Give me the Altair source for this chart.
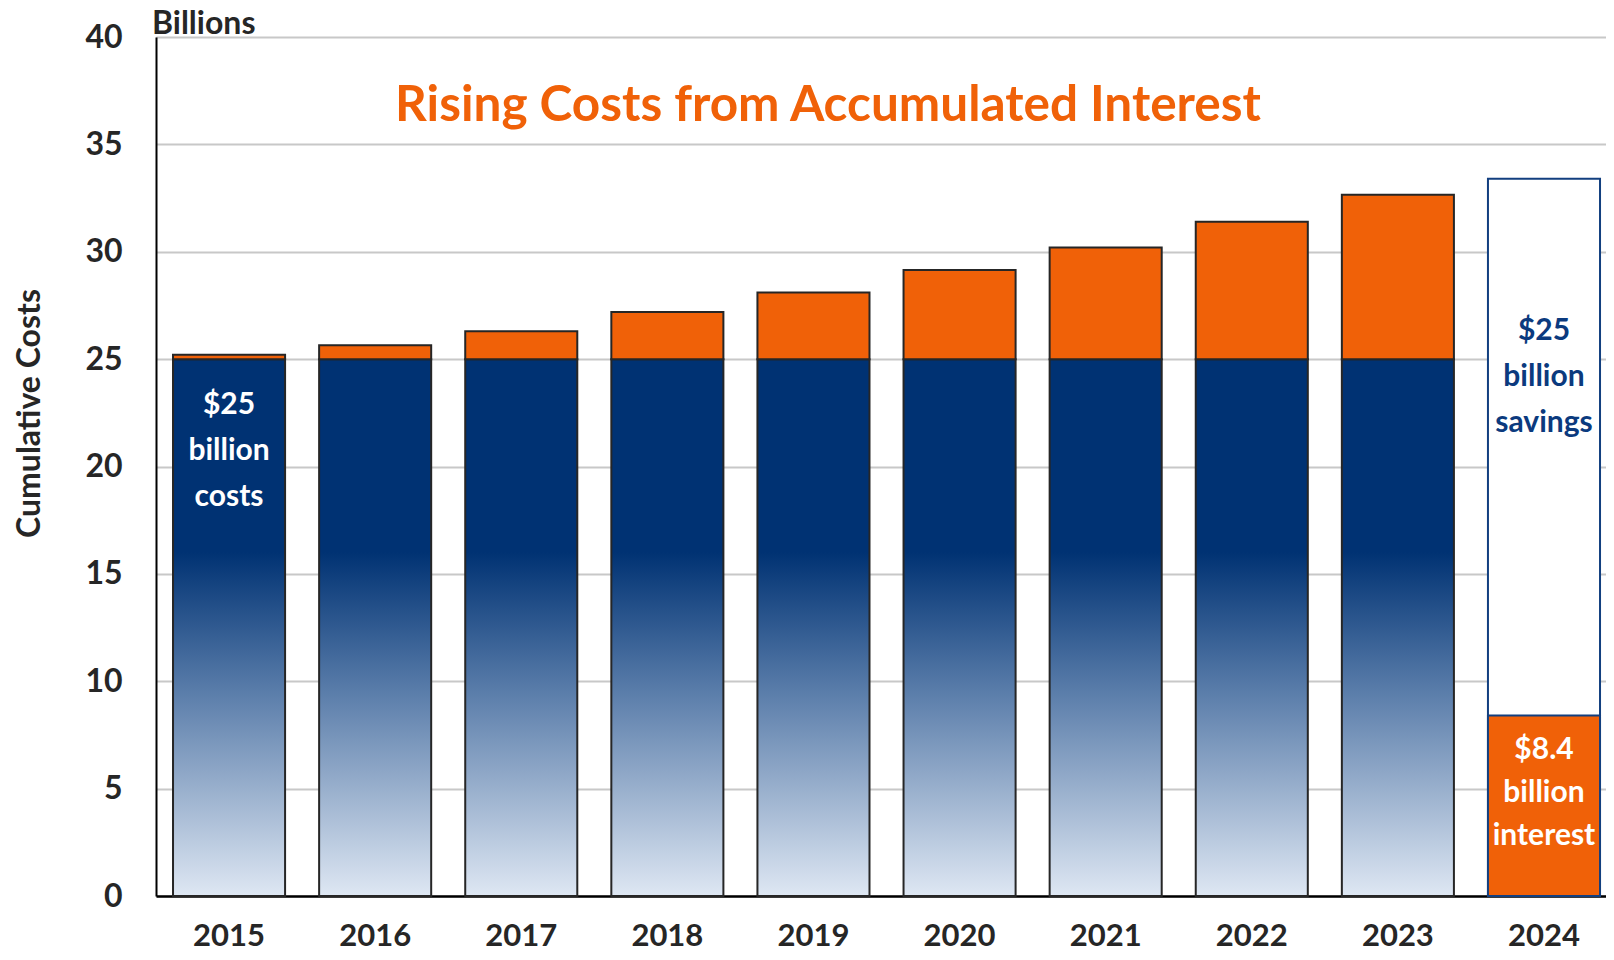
import altair as alt
import pandas as pd

# ---- data ----
years = ["2015", "2016", "2017", "2018", "2019", "2020", "2021", "2022", "2023", "2024"]
base_cost = [25, 25, 25, 25, 25, 25, 25, 25, 25]           # 2015-2023 principal
total_cost = [25.2, 25.65, 26.3, 27.2, 28.1, 29.15, 30.2, 31.4, 32.65]  # with accumulated interest
savings_total = [33.4]    # 2024 outline (savings + interest)
interest_2024 = [8.4]

label_years = ["2015", "2024", "2024"]
label_texts = ["$25\nbillion\ncosts", "$25\nbillion\nsavings", "$8.4\nbillion\ninterest"]
label_y = [22.85, 26.3, 6.8]   # first-line position of each annotation
label_heights = [46, 46, 43]
label_colors = ["#FFFFFF", "#0B3A7E", "#FFFFFF"]

FONT = "Lato"
NAVY = "#003273"
ORANGE = "#F06108"
DARK = "#262626"

df = pd.DataFrame({"year": years[:9], "base": base_cost, "total": total_cost, "zero": [0] * 9})
df24 = pd.DataFrame({"year": years[9:], "top": savings_total, "interest": interest_2024, "zero": [0]})
dfl = pd.DataFrame({"year": label_years, "text": label_texts, "y": label_y, "c": label_colors,
                    "lh": label_heights})

xenc = alt.X(
    "year:N",
    sort=years,
    scale=alt.Scale(domain=years, paddingInner=0.233, paddingOuter=0.0787, align=0.74),
    axis=alt.Axis(
        title=None, labelAngle=0, labelFont=FONT, labelFontSize=31, labelFontWeight="bold",
        labelColor=DARK, labelPadding=25, ticks=False, domainColor="#000000", domainWidth=2.5,
    ),
)
yscale = alt.Scale(domain=[0, 40], nice=False)
yaxis = alt.Axis(
    title="Cumulative Costs", values=list(range(0, 41, 5)),
    labelFont=FONT, labelFontSize=32, labelFontWeight="bold", labelColor=DARK, labelPadding=34,
    ticks=False, domainColor="#000000", domainWidth=2, gridColor="#C8C8C8", gridWidth=2,
    titleFont=FONT, titleFontSize=32, titleFontWeight="bold", titleColor=DARK,
    titleAngle=270, titleX=-127, titleY=376, titleAlign="center", titleBaseline="middle",
)

grad = alt.Gradient(
    gradient="linear", x1=0, x2=0, y1=0, y2=1,
    stops=[
        alt.GradientStop(color=NAVY, offset=0),
        alt.GradientStop(color=NAVY, offset=0.36),
        alt.GradientStop(color="#5A7DAA", offset=0.62),
        alt.GradientStop(color="#DEE7F3", offset=1),
    ],
)

base = alt.Chart(df).mark_bar(fill=grad, stroke=DARK, strokeWidth=2).encode(
    x=xenc, y=alt.Y("zero:Q", scale=yscale, axis=yaxis), y2="base:Q"
)
interest = alt.Chart(df).mark_bar(fill=ORANGE, stroke=DARK, strokeWidth=2).encode(
    x=xenc, y=alt.Y("base:Q", scale=yscale), y2="total:Q"
)
outline = alt.Chart(df24).mark_bar(fill="#FFFFFF", stroke="#123F7F", strokeWidth=2).encode(
    x=xenc, y=alt.Y("zero:Q", scale=yscale), y2="top:Q"
)
orange24 = alt.Chart(df24).mark_bar(fill=ORANGE, stroke="#123F7F", strokeWidth=2).encode(
    x=xenc, y=alt.Y("zero:Q", scale=yscale), y2="interest:Q"
)
labels = alt.layer(*[
    alt.Chart(dfl.iloc[[i]]).mark_text(
        font=FONT, fontSize=30, fontWeight="bold", lineBreak="\n", lineHeight=int(dfl["lh"][i]),
        align="center", baseline="middle",
    ).encode(
        x=xenc, y=alt.Y("y:Q", scale=yscale), text="text:N",
        color=alt.Color("c:N", scale=None),
    )
    for i in range(len(dfl))
])

title = alt.Chart(pd.DataFrame({"t": ["Rising Costs from Accumulated Interest"]})).mark_text(
    font=FONT, fontSize=49.5, fontWeight="bold", color=ORANGE, align="center", baseline="middle",
).encode(x=alt.value(672), y=alt.value(69), text="t:N")

billions = alt.Chart(pd.DataFrame({"t": ["Billions"]})).mark_text(
    font=FONT, fontSize=32, fontWeight="bold", color=DARK, align="left", baseline="alphabetic",
).encode(x=alt.value(-4), y=alt.value(-3), text="t:N")

chart = alt.layer(base, interest, outline, orange24, labels, title, billions).properties(
    width=1450, height=859,
    padding={"left": 148, "top": 29, "right": 0, "bottom": 56},
    autosize=alt.AutoSizeParams(type="none"),
).configure_view(stroke=None).configure(background="#FFFFFF")

chart.save("out.html", embed_options={"renderer": "svg", "actions": False})
